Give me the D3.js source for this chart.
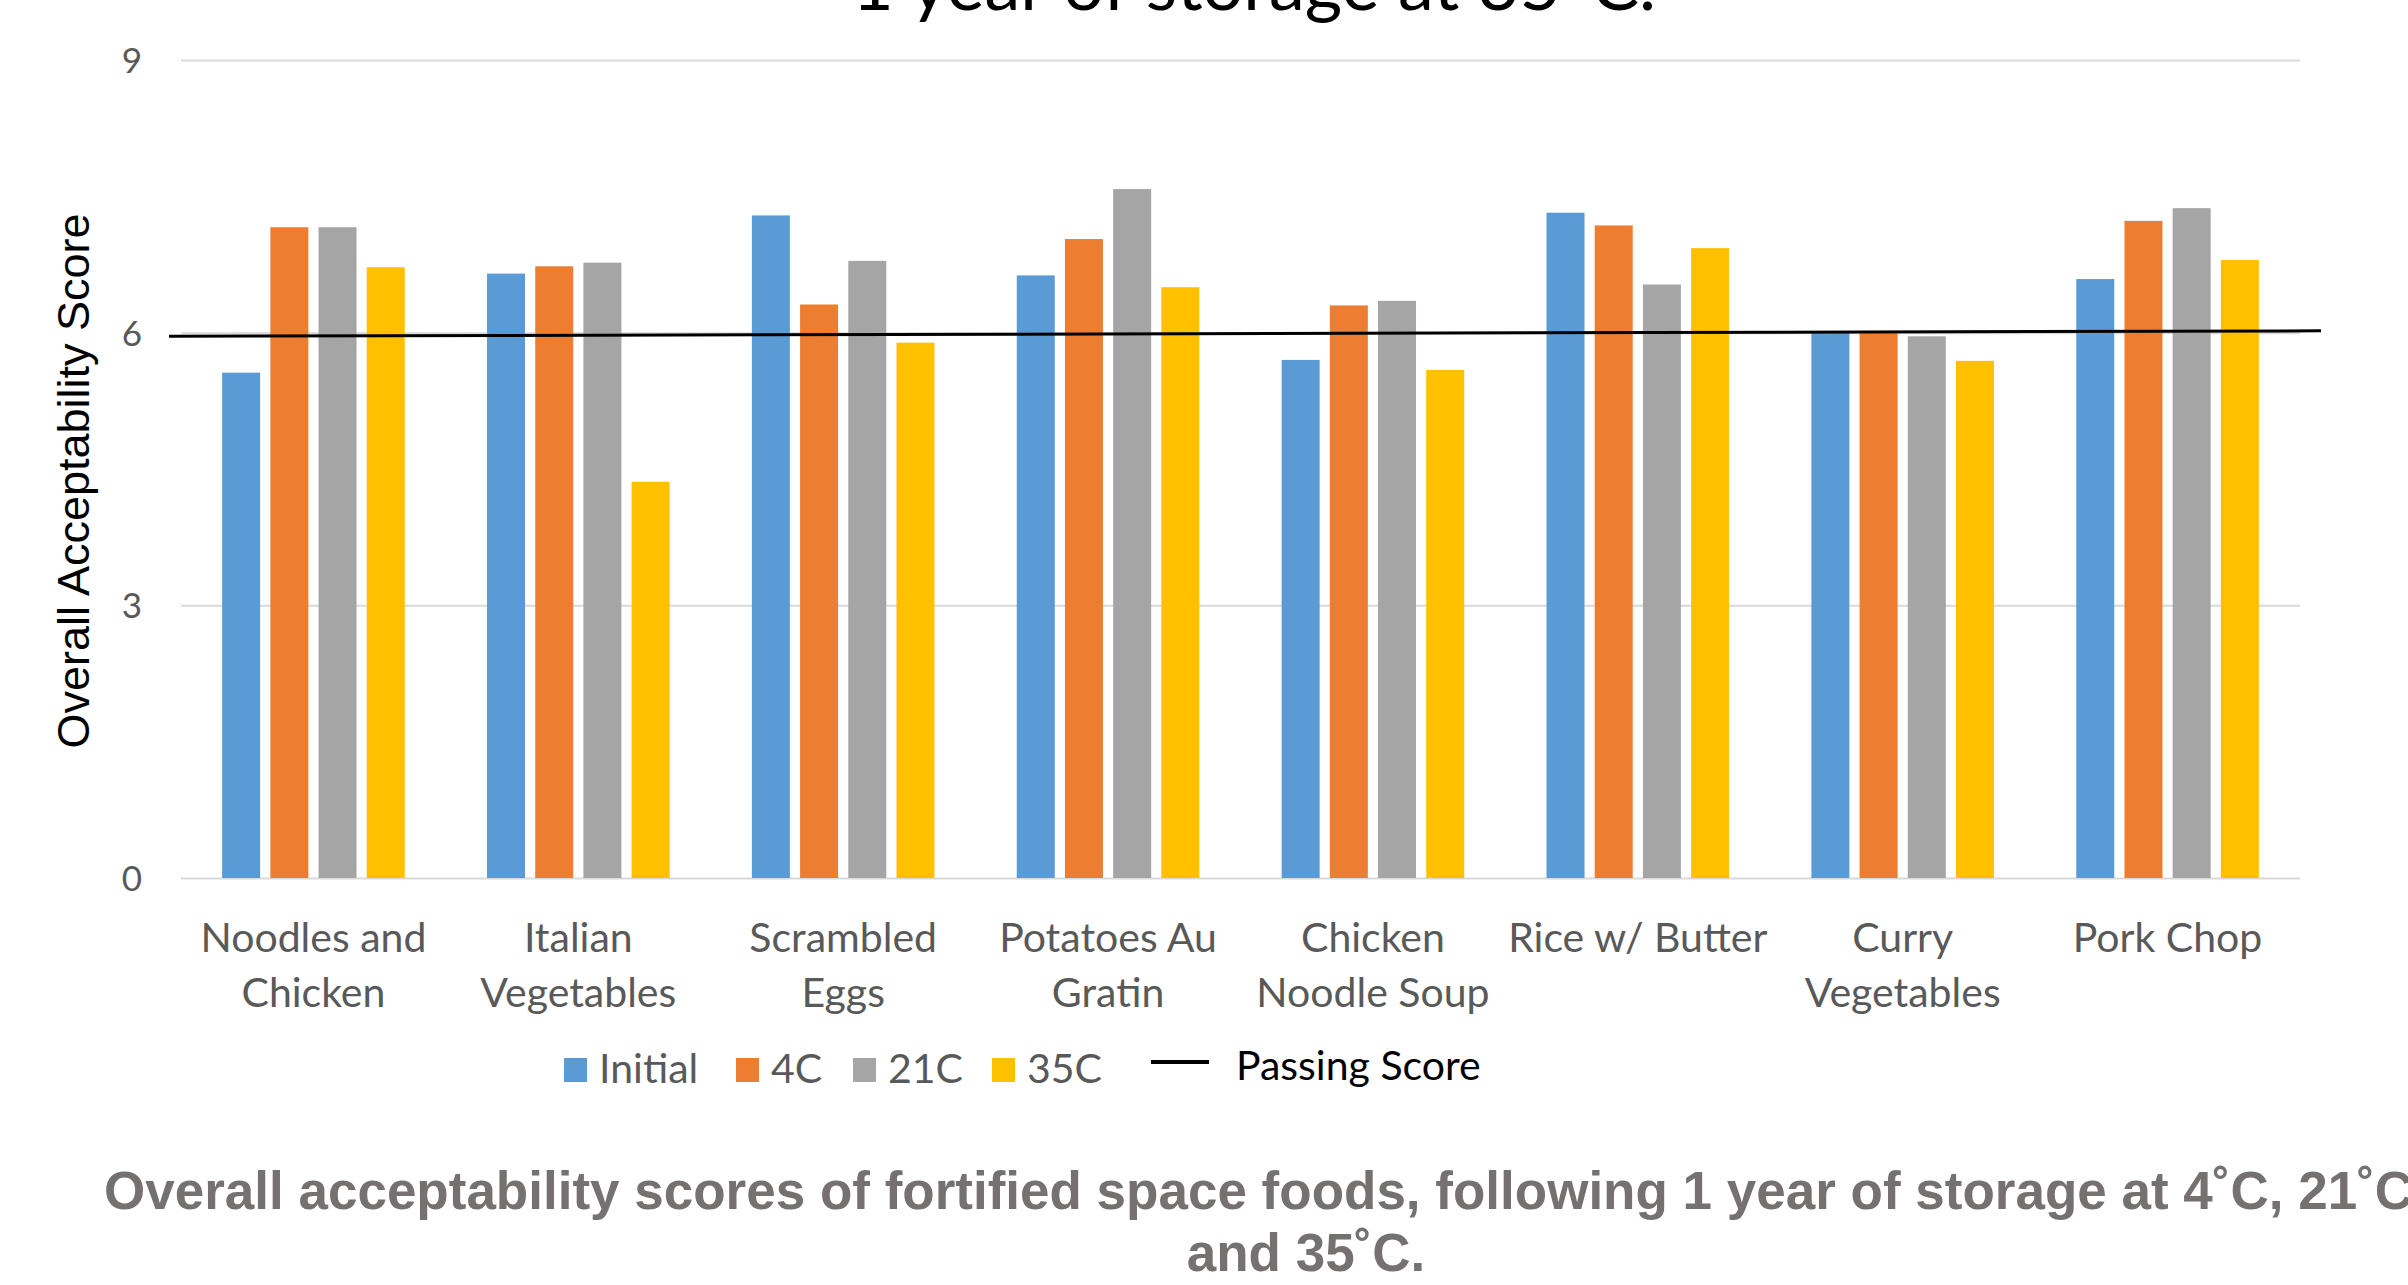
<!DOCTYPE html>
<html>
<head>
<meta charset="utf-8">
<script src="https://cdn.jsdelivr.net/npm/d3@7"></script>
<style>
  html, body { margin: 0; padding: 0; background: #fff; overflow: hidden; }
  svg { display: block; }
</style>
</head>
<body>
<svg id="chart" width="2408" height="1285"></svg>
<script>
// Food items on the category axis
const categories = [
  "Noodles and Chicken", "Italian Vegetables", "Scrambled Eggs", "Potatoes Au Gratin",
  "Chicken Noodle Soup", "Rice w/ Butter", "Curry Vegetables", "Pork Chop"
];
// How each category label wraps onto lines
const categoryLines = [
  ["Noodles and", "Chicken"], ["Italian", "Vegetables"], ["Scrambled", "Eggs"],
  ["Potatoes Au", "Gratin"], ["Chicken", "Noodle Soup"], ["Rice w/ Butter"],
  ["Curry", "Vegetables"], ["Pork Chop"]
];
const seriesNames = ["Initial", "4C", "21C", "35C"];
// Overall acceptability scores per storage condition
const initialScores = [5.56, 6.65, 7.29, 6.63, 5.70, 7.32, 6.01, 6.59];
const scores4C      = [7.16, 6.73, 6.31, 7.03, 6.30, 7.18, 6.00, 7.23];
const scores21C     = [7.16, 6.77, 6.79, 7.58, 6.35, 6.53, 5.96, 7.37];
const scores35C     = [6.72, 4.36, 5.89, 6.50, 5.59, 6.93, 5.69, 6.80];
// Passing score reference line (start and end values)
const passingScore = [5.96, 6.02];
const yTicks = [0, 3, 6, 9];

const seriesValues = [initialScores, scores4C, scores21C, scores35C];
const colors = ["#5B9BD5", "#ED7D31", "#A5A5A5", "#FFC000"];

const svg = d3.select("#chart");
const plot = { left: 181, right: 2300, top: 60, bottom: 878 };

const x0 = d3.scaleBand().domain(categories).range([plot.left, plot.right]).padding(0);
const groupWidth = 182.6;
const groupOffset = (x0.bandwidth() - groupWidth) / 2;
const x1 = d3.scaleBand().domain(seriesNames)
  .range([groupOffset, groupOffset + groupWidth])
  .paddingInner(0.2116).paddingOuter(0);
const y = d3.scaleLinear().domain([0, 9]).range([plot.bottom, plot.top]);
const color = d3.scaleOrdinal().domain(seriesNames).range(colors);

const labelFont = "Lato, 'Open Sans', sans-serif";

// Horizontal gridlines
const yAxis = d3.axisLeft(y).tickValues(yTicks)
  .tickSize(-(plot.right - plot.left)).tickFormat(d3.format("d")).tickPadding(39);
const gy = svg.append("g").attr("transform", `translate(${plot.left},0)`).call(yAxis);
gy.select(".domain").remove();
gy.selectAll(".tick line").attr("stroke", "#D9D9D9").attr("stroke-width", 2);
gy.selectAll(".tick text")
  .attr("fill", "#595959")
  .style("font-family", labelFont)
  .style("font-size", "35px")
  .attr("dy", "0.36em");

// Bars
const rows = categories.map((c, i) => ({
  category: c,
  values: seriesNames.map((s, j) => ({ key: s, value: seriesValues[j][i] }))
}));
const groups = svg.append("g").selectAll("g").data(rows).join("g")
  .attr("transform", d => `translate(${x0(d.category)},0)`);
groups.selectAll("rect").data(d => d.values).join("rect")
  .attr("x", d => x1(d.key))
  .attr("width", x1.bandwidth())
  .attr("y", d => y(d.value))
  .attr("height", d => y(0) - y(d.value))
  .attr("fill", d => color(d.key));

// Passing score line across the plot
const xLine = d3.scaleLinear().domain([0, 1]).range([plot.left - 12, plot.right + 21]);
svg.append("path")
  .datum(passingScore)
  .attr("d", d3.line().x((d, i) => xLine(i)).y(d => y(d)))
  .attr("stroke", "#000").attr("stroke-width", 3).attr("fill", "none");

// Category labels
const cl = svg.append("g").selectAll("text").data(categories).join("text")
  .attr("x", d => x0(d) + x0.bandwidth() / 2)
  .attr("y", 952)
  .attr("text-anchor", "middle")
  .attr("fill", "#595959")
  .style("font-family", labelFont)
  .style("font-size", "41px");
cl.selectAll("tspan").data((d, i) => categoryLines[i]).join("tspan")
  .attr("x", function () { return this.parentNode.getAttribute("x"); })
  .attr("dy", (d, i) => i === 0 ? 0 : 55)
  .text(d => d);

// Y axis title
svg.append("text")
  .attr("transform", "translate(89,481) rotate(-90)")
  .attr("text-anchor", "middle")
  .style("font-family", "Arial, 'Liberation Sans', sans-serif")
  .style("font-size", "45px")
  .attr("fill", "#000")
  .text("Overall Acceptability Score");

// Chart title (top edge)
svg.append("text")
  .attr("x", 1254).attr("y", 10)
  .attr("text-anchor", "middle")
  .style("font-family", labelFont)
  .style("font-size", "72px")
  .attr("fill", "#000")
  .text("1 year of storage at 35°C.");

// Legend: swatch positions for the four series, then the line entry
const legendX = [564, 736, 853, 992];
const legend = svg.append("g");
seriesNames.forEach((s, i) => {
  legend.append("rect").attr("x", legendX[i]).attr("y", 1058).attr("width", 23).attr("height", 24)
    .attr("fill", color(s));
  legend.append("text").attr("x", legendX[i] + 35).attr("y", 1083)
    .attr("fill", "#595959")
    .style("font-family", labelFont).style("font-size", "41px").text(s);
});
legend.append("line").attr("x1", 1151).attr("x2", 1209).attr("y1", 1062).attr("y2", 1062)
  .attr("stroke", "#000").attr("stroke-width", 4);
legend.append("text").attr("x", 1236).attr("y", 1080)
  .attr("fill", "#000")
  .style("font-family", labelFont).style("font-size", "41px").text("Passing Score");

// Caption below the chart
const caption = svg.append("g")
  .attr("fill", "#767171")
  .style("font-family", "Arial, 'Liberation Sans', sans-serif")
  .style("font-weight", "bold")
  .style("font-size", "53px");
caption.append("text").attr("x", 104).attr("y", 1209).attr("text-anchor", "start")
  .text("Overall acceptability scores of fortified space foods, following 1 year of storage at 4˚C, 21˚C");
caption.append("text").attr("x", 1306).attr("y", 1271).attr("text-anchor", "middle")
  .text("and 35˚C.");
</script>
</body>
</html>
